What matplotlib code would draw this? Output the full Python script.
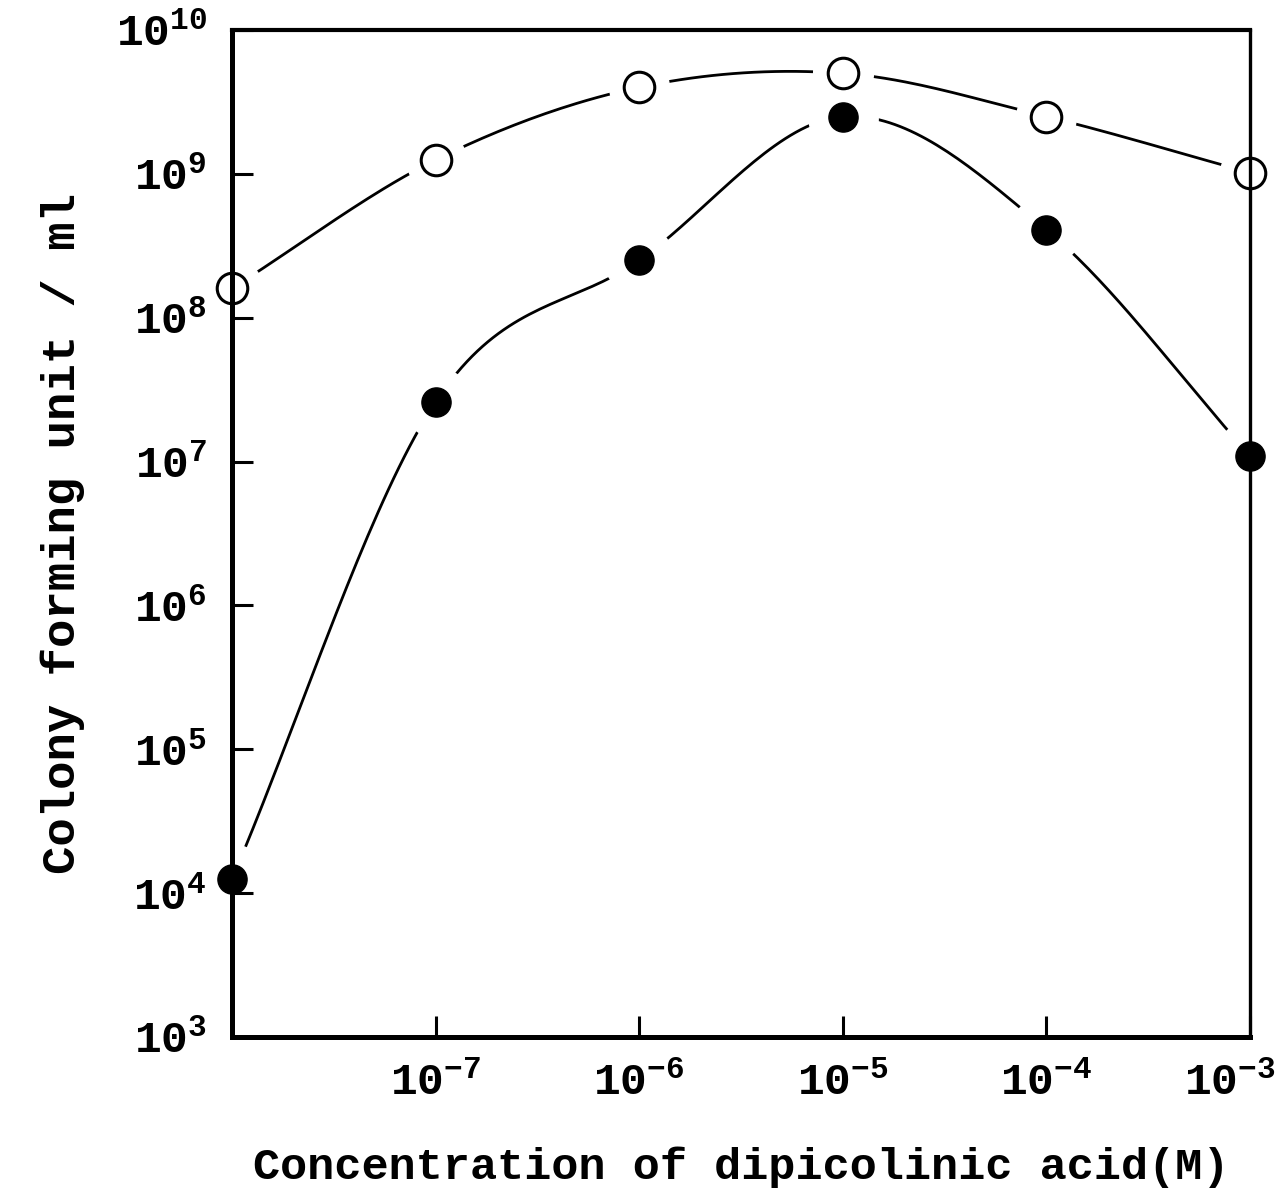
import numpy as np
import matplotlib
matplotlib.use("Agg")
import matplotlib.pyplot as plt
import matplotlib.transforms as mtransforms

# -----------------------------------
# DATA
# -----------------------------------
# first point is the control (no acid), drawn on the left axis
conc = [1e-8, 1e-7, 1e-6, 1e-5, 1e-4, 1e-3]
cfu_open = [1.6e8, 1.25e9, 4.0e9, 5.0e9, 2.5e9, 1.02e9]
cfu_filled = [1.25e4, 2.6e7, 2.5e8, 2.5e9, 4.1e8, 1.1e7]

xtick_pos = [1e-7, 1e-6, 1e-5, 1e-4, 1e-3]
xtick_labels = [r"$\mathregular{10^{-7}}$", r"$\mathregular{10^{-6}}$",
                r"$\mathregular{10^{-5}}$", r"$\mathregular{10^{-4}}$",
                r"$\mathregular{10^{-3}}$"]
ytick_pos = [1e3, 1e4, 1e5, 1e6, 1e7, 1e8, 1e9, 1e10]
ytick_labels = [r"$\mathregular{10^{%d}}$" % k for k in range(3, 11)]

# -----------------------------------
# FONT
# -----------------------------------
plt.rcParams["font.family"] = ["Liberation Mono", "DejaVu Sans"]
plt.rcParams["font.weight"] = "bold"
plt.rcParams["axes.labelweight"] = "bold"
plt.rcParams["mathtext.fontset"] = "custom"
plt.rcParams["mathtext.rm"] = "Liberation Mono:bold"
plt.rcParams["mathtext.it"] = "Liberation Mono:bold"
plt.rcParams["mathtext.bf"] = "Liberation Mono:bold"


def smooth(x, y, n=40):
    # catmull-rom curve through the points, in log-log space
    lx = np.log10(x)
    ly = np.log10(y)
    px = np.concatenate([[2 * lx[0] - lx[1]], lx, [2 * lx[-1] - lx[-2]]])
    py = np.concatenate([[2 * ly[0] - ly[1]], ly, [2 * ly[-1] - ly[-2]]])
    outx, outy = [], []
    t = np.linspace(0, 1, n)
    for i in range(1, len(px) - 2):
        for p, out in ((px, outx), (py, outy)):
            p0, p1, p2, p3 = p[i - 1], p[i], p[i + 1], p[i + 2]
            seg = 0.5 * ((2 * p1) + (-p0 + p2) * t
                         + (2 * p0 - 5 * p1 + 4 * p2 - p3) * t ** 2
                         + (-p0 + 3 * p1 - 3 * p2 + p3) * t ** 3)
            out.extend(seg)
    return 10 ** np.array(outx), 10 ** np.array(outy)


fig = plt.figure(figsize=(12.79, 11.90), dpi=100)
ax = fig.add_axes([0.1814, 0.1286, 0.9773 - 0.1814, 0.9748 - 0.1286])
ax.set_xscale("log")
ax.set_yscale("log")
ax.set_axisbelow(False)  # tick labels above the white gaps

# connecting curves
for ys in (cfu_open, cfu_filled):
    sx, sy = smooth(conc, ys)
    ax.plot(sx, sy, color="black", lw=2.0, zorder=2)

# white gaps round the symbols
ax.plot(conc, cfu_open, ls="none", marker="o", ms=43, mfc="white",
        mec="white", zorder=2.1, clip_on=False)
ax.plot(conc, cfu_filled, ls="none", marker="o", ms=50, mfc="white",
        mec="white", zorder=2.1, clip_on=False)

# symbols
ax.plot(conc, cfu_open, ls="none", marker="o", ms=22, mfc="none",
        mec="black", mew=2.2, zorder=3, clip_on=False)
ax.plot(conc, cfu_filled, ls="none", marker="o", ms=21, mfc="black",
        mec="black", zorder=3, clip_on=False)

ax.set_xlim(1e-8, 1e-3)
ax.set_ylim(1e3, 1e10)

ax.set_xticks(xtick_pos)
ax.set_xticklabels(xtick_labels)
ax.set_yticks(ytick_pos)
ax.set_yticklabels(ytick_labels)
ax.minorticks_off()
ax.tick_params(axis="both", direction="in", length=15, width=2.2,
               labelsize=32)
ax.tick_params(axis="x", pad=18)
ax.tick_params(axis="y", pad=18)

# last x label sits at the figure edge, nudge it left so it fits
last = ax.get_xticklabels()[-1]
last.set_transform(last.get_transform() +
                   mtransforms.ScaledTranslation(-0.2, 0, fig.dpi_scale_trans))

ax.spines["left"].set_linewidth(3.6)
ax.spines["bottom"].set_linewidth(3.6)
ax.spines["top"].set_linewidth(3.0)
ax.spines["right"].set_linewidth(2.4)

ax.set_xlabel("Concentration of dipicolinic acid(M)", fontsize=32.5,
              labelpad=30)
ax.set_ylabel("Colony forming unit / ml", fontsize=34, labelpad=22)

fig.savefig("out.png", dpi=100)
